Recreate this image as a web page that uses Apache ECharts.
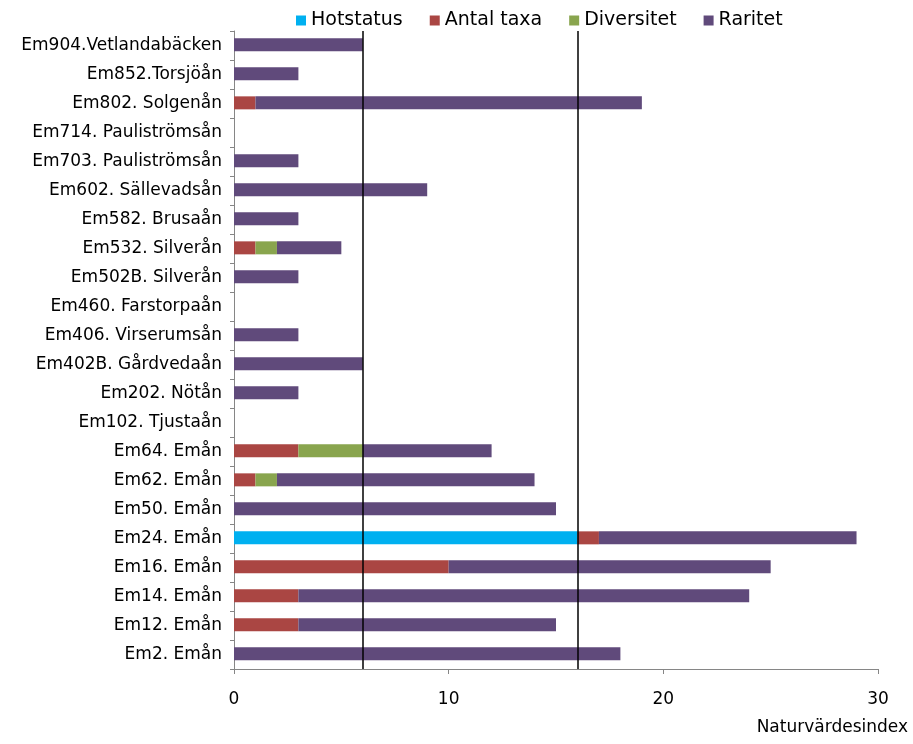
<!DOCTYPE html>
<html>
<head>
<meta charset="utf-8">
<script src="https://cdn.jsdelivr.net/npm/echarts@6/dist/echarts.min.js"></script>
<style>
  html, body { margin: 0; padding: 0; background: #fff; }
  #chart { width: 913px; height: 744px; }
</style>
</head>
<body>
<div id="chart"></div>
<script>
// categories from bottom to top
const stations = [
  'Em2. Emån', 'Em12. Emån', 'Em14. Emån', 'Em16. Emån', 'Em24. Emån',
  'Em50. Emån', 'Em62. Emån', 'Em64. Emån', 'Em102. Tjustaån', 'Em202. Nötån',
  'Em402B. Gårdvedaån', 'Em406. Virserumsån', 'Em460. Farstorpaån', 'Em502B. Silverån',
  'Em532. Silverån', 'Em582. Brusaån', 'Em602. Sällevadsån', 'Em703. Pauliströmsån',
  'Em714. Pauliströmsån', 'Em802. Solgenån', 'Em852.Torsjöån', 'Em904.Vetlandabäcken'
];
const hotstatus = [0, 0, 0, 0, 16, 0, 0, 0, 0, 0, 0, 0, 0, 0, 0, 0, 0, 0, 0, 0, 0, 0];
const antalTaxa = [0, 3, 3, 10, 1, 0, 1, 3, 0, 0, 0, 0, 0, 0, 1, 0, 0, 0, 0, 1, 0, 0];
const diversitet = [0, 0, 0, 0, 0, 0, 1, 3, 0, 0, 0, 0, 0, 0, 1, 0, 0, 0, 0, 0, 0, 0];
const raritet = [18, 12, 21, 15, 12, 15, 12, 6, 0, 3, 6, 3, 0, 3, 3, 3, 9, 3, 0, 18, 3, 6];
const refLines = [6, 16];

const seriesNames = ['Hotstatus', 'Antal taxa', 'Diversitet', 'Raritet'];
const seriesColors = ['#00B0F0', '#AA4643', '#89A54E', '#604A7B'];
const seriesData = [hotstatus, antalTaxa, diversitet, raritet];

const font = 'DejaVu Sans, sans-serif';

const chart = echarts.init(document.getElementById('chart'));

const series = seriesData.map((data, i) => ({
    name: seriesNames[i],
    type: 'bar',
    stack: 'total',
    barWidth: 13,
    data,
    itemStyle: { color: seriesColors[i] },
    emphasis: { disabled: true },
}));

// reference lines drawn on top of the stack
series.push({
    type: 'bar',
    stack: 'ref',
    data: [],
    markLine: {
        silent: true,
        symbol: 'none',
        label: { show: false },
        lineStyle: { color: '#000', width: 1.5, type: 'solid' },
        data: refLines.map(x => ({ xAxis: x })),
    },
});

chart.setOption({
    animation: false,
    textStyle: { fontFamily: font },
    legend: {
        data: seriesNames,
        top: 6,
        left: 291,
        itemWidth: 10,
        itemHeight: 10,
        itemGap: 27,
        icon: 'rect',
        textStyle: { fontSize: 19, color: '#000', fontFamily: font },
    },
    grid: { left: 234, right: 35, top: 31, bottom: 75 },
    xAxis: {
        type: 'value',
        min: 0,
        max: 30,
        interval: 10,
        name: 'Naturvärdesindex',
        nameLocation: 'end',
        nameGap: 30,
        nameTextStyle: {
            fontSize: 17, color: '#000', fontFamily: font,
            align: 'right', verticalAlign: 'top', padding: [50, 0, 0, 0],
        },
        axisLine: { show: true, lineStyle: { color: '#868686' } },
        axisTick: { show: true, length: 5, lineStyle: { color: '#868686' } },
        splitLine: { show: false },
        axisLabel: { fontSize: 17, color: '#000', margin: 22 },
    },
    yAxis: {
        type: 'category',
        data: stations,
        axisLine: { show: true, lineStyle: { color: '#868686' } },
        axisTick: { show: true, length: 4, lineStyle: { color: '#868686' } },
        axisLabel: { fontSize: 17, color: '#000', margin: 12 },
    },
    series,
});
</script>
</body>
</html>
